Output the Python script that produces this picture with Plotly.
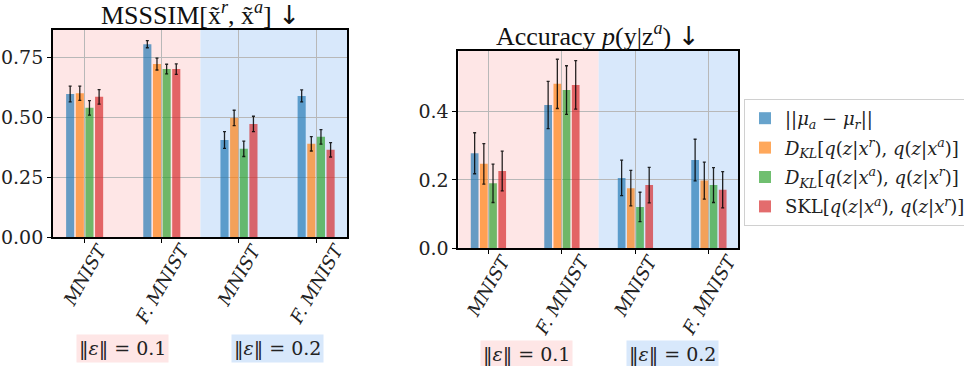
import plotly.graph_objects as go

categories = ["MNIST", "F. MNIST", "MNIST", "F. MNIST"]
tick_labels = ["MNIST", "F. MNIST", "MNIST", "F. MNIST"]

series_names = [
    "||<i>μ</i><sub><i>a</i></sub> − <i>μ</i><sub><i>r</i></sub>||",
    "<i>D</i><sub><i>KL</i></sub>[<i>q</i>(<i>z</i>|<i>x</i><sup><i>r</i></sup>), <i>q</i>(<i>z</i>|<i>x</i><sup><i>a</i></sup>)]",
    "<i>D</i><sub><i>KL</i></sub>[<i>q</i>(<i>z</i>|<i>x</i><sup><i>a</i></sup>), <i>q</i>(<i>z</i>|<i>x</i><sup><i>r</i></sup>)]",
    "SKL[<i>q</i>(<i>z</i>|<i>x</i><sup><i>a</i></sup>), <i>q</i>(<i>z</i>|<i>x</i><sup><i>r</i></sup>)]",
]

# MSSSIM panel values (per series, over the 4 categories)
msssim_mu = [0.597, 0.805, 0.405, 0.589]
msssim_dkl_ra = [0.600, 0.722, 0.497, 0.389]
msssim_dkl_ar = [0.539, 0.701, 0.368, 0.418]
msssim_skl = [0.585, 0.701, 0.472, 0.364]
msssim_mu_err = [0.033, 0.015, 0.035, 0.025]
msssim_dkl_ra_err = [0.030, 0.025, 0.032, 0.030]
msssim_dkl_ar_err = [0.030, 0.020, 0.032, 0.030]
msssim_skl_err = [0.030, 0.022, 0.032, 0.030]

# Accuracy panel values
acc_mu = [0.278, 0.419, 0.206, 0.258]
acc_dkl_ra = [0.247, 0.481, 0.176, 0.198]
acc_dkl_ar = [0.190, 0.463, 0.121, 0.185]
acc_skl = [0.226, 0.478, 0.185, 0.171]
acc_mu_err = [0.060, 0.069, 0.052, 0.061]
acc_dkl_ra_err = [0.059, 0.072, 0.052, 0.054]
acc_dkl_ar_err = [0.056, 0.071, 0.043, 0.051]
acc_skl_err = [0.058, 0.071, 0.052, 0.053]

msssim_vals = [msssim_mu, msssim_dkl_ra, msssim_dkl_ar, msssim_skl]
msssim_errs = [msssim_mu_err, msssim_dkl_ra_err, msssim_dkl_ar_err, msssim_skl_err]
acc_vals = [acc_mu, acc_dkl_ra, acc_dkl_ar, acc_skl]
acc_errs = [acc_mu_err, acc_dkl_ra_err, acc_dkl_ar_err, acc_skl_err]

colors = ["rgba(31,119,180,0.68)", "rgba(255,127,14,0.68)",
          "rgba(44,160,44,0.68)", "rgba(214,39,40,0.68)"]

eps_labels = ["‖<i>ε</i>‖ = 0.1", "‖<i>ε</i>‖ = 0.2"]

PINK = "#fee6e6"
BLUE = "#d8e8fb"
SERIF = "DejaVu Serif"
TSERIF = "Liberation Serif"
ARROW = "<span style='font-family:DejaVu Sans'>↓</span>"
# vertical offset (px) of rotated label centres below the axis
LABEL_DROP = {"MNIST": -37, "F. MNIST": -46}

x_idx = list(range(len(categories)))

fig = go.Figure()

for i in range(4):
    fig.add_trace(go.Bar(
        x=x_idx, y=msssim_vals[i], name=series_names[i],
        marker=dict(color=colors[i], line=dict(width=0)),
        error_y=dict(type="data", array=msssim_errs[i], color="rgba(0,0,0,0.85)",
                     thickness=1.3, width=1.5),
        xaxis="x", yaxis="y", showlegend=False, offsetgroup=str(i),
    ))
for i in range(4):
    fig.add_trace(go.Bar(
        x=x_idx, y=acc_vals[i], name=series_names[i],
        marker=dict(color=colors[i], line=dict(width=0)),
        error_y=dict(type="data", array=acc_errs[i], color="rgba(0,0,0,0.85)",
                     thickness=1.3, width=1.5),
        xaxis="x2", yaxis="y2", showlegend=True, offsetgroup=str(i),
        legendgroup=f"g{i}",
    ))

axis_common = dict(
    showline=True, linecolor="black", linewidth=1.8, mirror=True,
    showgrid=True, gridcolor="#b8b8b8", gridwidth=1,
    ticks="outside", ticklen=4, tickcolor="black", zeroline=False,
    automargin=False,
)
ytickfont = dict(size=19, family=SERIF, color="#222222")

fig.update_layout(
    width=964, height=366,
    margin=dict(l=0, r=0, t=0, b=0, autoexpand=False),
    paper_bgcolor="white", plot_bgcolor="rgba(0,0,0,0)",
    barmode="group", bargap=0.5, bargroupgap=0.16,
    font=dict(family=SERIF, color="#222222"),
    xaxis=dict(domain=[53/964, 347/964], range=[-0.41, 3.40], tickvals=x_idx,
               showticklabels=False, anchor="y", **axis_common),
    yaxis=dict(domain=[(366-237)/366, (366-30)/366], range=[0, 0.864],
               tickvals=[0, 0.25, 0.5, 0.75], ticktext=["0.00", "0.25", "0.50", "0.75"],
               anchor="x", tickfont=ytickfont, **axis_common),
    xaxis2=dict(domain=[458.3/964, 738.3/964], range=[-0.41, 3.40], tickvals=x_idx,
                showticklabels=False, anchor="y2", **axis_common),
    yaxis2=dict(domain=[(366-248.3)/366, (366-50.7)/366], range=[0, 0.578],
                tickvals=[0, 0.2, 0.4], ticktext=["0.0", "0.2", "0.4"],
                anchor="x2", tickfont=ytickfont, **axis_common),
    legend=dict(x=744/964, y=(366-99)/366, xanchor="left", yanchor="top",
                bgcolor="white", bordercolor="#d0d0d0", borderwidth=1,
                font=dict(size=18, family=SERIF, color="#222222"),
                tracegroupgap=3, itemwidth=30),
)

# category labels, rotated and centred under each tick (matplotlib style)
for xr, yr in (("x", "y"), ("x2", "y2")):
    for xi, lab in zip(x_idx, tick_labels):
        fig.add_annotation(x=xi, y=0, xref=xr, yref=f"{yr} domain", showarrow=False,
                           xanchor="center", yanchor="middle", yshift=LABEL_DROP[lab],
                           textangle=-60, text=f"<i>{lab}</i>",
                           font=dict(size=18, family=SERIF, color="#222222"))

# background shading for the two epsilon groups
for xr, yr in (("x", "y"), ("x2", "y2")):
    fig.add_shape(type="rect", xref=xr, yref=f"{yr} domain", x0=-0.41, x1=1.5, y0=0, y1=1,
                  fillcolor=PINK, line=dict(width=0), layer="below")
    fig.add_shape(type="rect", xref=xr, yref=f"{yr} domain", x0=1.5, x1=3.40, y0=0, y1=1,
                  fillcolor=BLUE, line=dict(width=0), layer="below")

# titles
fig.add_annotation(x=200/964, y=(366-13)/366, xref="paper", yref="paper", showarrow=False,
                   xanchor="center", yanchor="middle",
                   text=f"MSSSIM[x\u0303<sup><i>r</i></sup>, x\u0303<sup><i>a</i></sup>] {ARROW}",
                   font=dict(size=26, family=TSERIF, color="#111111"))
fig.add_annotation(x=598/964, y=(366-34)/366, xref="paper", yref="paper", showarrow=False,
                   xanchor="center", yanchor="middle",
                   text=f"Accuracy <i>p</i>(y|z<sup><i>a</i></sup>) {ARROW}",
                   font=dict(size=26, family=TSERIF, color="#111111"))

# epsilon group labels
for xc, yc, txt, bg in ((122, 348, eps_labels[0], PINK), (277, 348, eps_labels[1], BLUE),
                        (526, 354, eps_labels[0], PINK), (672, 354, eps_labels[1], BLUE)):
    fig.add_annotation(x=xc/964, y=(366-yc)/366, xref="paper", yref="paper", showarrow=False,
                       xanchor="center", yanchor="middle",
                       text=txt, bgcolor=bg, borderpad=2,
                       font=dict(size=19, family=SERIF, color="#222222"))

fig.write_html("out.html", config={"displayModeBar": False},
               post_script="document.body.style.margin='0';")
